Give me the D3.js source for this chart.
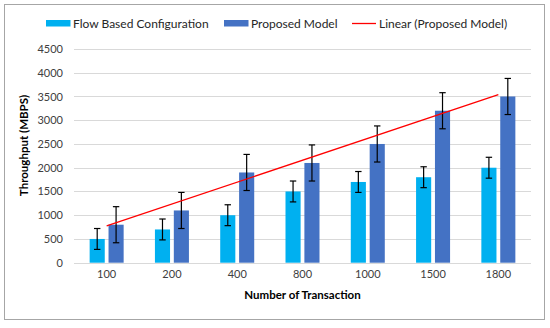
<!DOCTYPE html>
<html><head><meta charset="utf-8">
<script src="https://cdn.jsdelivr.net/npm/d3@7"></script>
<style>
html,body{margin:0;padding:0;background:#fff;}
svg{display:block;font-family:Lato,"Open Sans",sans-serif;}
</style></head>
<body>
<svg id="chart" width="550" height="328"></svg>
<script>
const categories = ["100","200","400","800","1000","1500","1800"];
const seriesNames = ["Flow Based Configuration","Proposed Model"];
const flowValues = [500,700,1000,1500,1700,1800,2000];
const proposedValues = [800,1100,1900,2100,2500,3200,3500];
const flowErrors = [220,220,220,220,220,220,220];
const proposedErrors = [380,380,380,380,380,380,380];
const yTicks = [0,500,1000,1500,2000,2500,3000,3500,4000,4500];
const colors = ["#00b0f0","#4472c4"];
const trendColor = "#ff0000";

(function(){
const svg = d3.select("#chart");
const pLeft = 74, pRight = 531, pTop = 49, pBottom = 262.7;

// frame
svg.append("rect").attr("x",4.5).attr("y",4.5).attr("width",540).attr("height",315)
  .attr("fill","#fff").attr("stroke","#a6a6a6").attr("stroke-width",1);

const x0 = d3.scaleBand().domain(categories).range([pLeft,pRight]).paddingInner(0).paddingOuter(0);
const groupW = 34;
const x1 = d3.scaleBand().domain(seriesNames).range([0,groupW]).paddingInner(0.2);
const y = d3.scaleLinear().domain([0,4500]).range([pBottom,pTop]);

// grid
svg.append("g").selectAll("line").data(yTicks).join("line")
  .attr("x1",pLeft).attr("x2",pRight)
  .attr("y1",d=>Math.round(y(d))+0.5).attr("y2",d=>Math.round(y(d))+0.5)
  .attr("stroke","#d9d9d9").attr("stroke-width",1);

// y axis labels
const yAxis = d3.axisLeft(y).tickValues(yTicks).tickFormat(d3.format("d")).tickSize(0).tickPadding(11);
const ga = svg.append("g").attr("transform",`translate(${pLeft},0)`).call(yAxis);
ga.select(".domain").remove();
ga.selectAll("text").attr("fill","#404040").style("font-size","11px").style("font-family","Lato");

// x axis labels
const xAxis = d3.axisBottom(x0).tickSize(0).tickPadding(8);
const gx = svg.append("g").attr("transform",`translate(0,${pBottom})`).call(xAxis);
gx.select(".domain").remove();
gx.selectAll("text").attr("fill","#404040").style("font-size","11px").style("font-family","Lato");

// bars
const rows = categories.map((c,i)=>({cat:c, vals:[flowValues[i],proposedValues[i]], errs:[flowErrors[i],proposedErrors[i]]}));
const off = (x0.bandwidth()-groupW)/2;
const groups = svg.append("g").selectAll("g").data(rows).join("g")
  .attr("transform",d=>`translate(${x0(d.cat)+off},0)`);
const items = d => seriesNames.map((s,j)=>({s, j, v:d.vals[j], e:d.errs[j]}));
groups.selectAll("rect").data(items).join("rect")
  .attr("x",d=>x1(d.s)).attr("width",x1.bandwidth())
  .attr("y",d=>y(d.v)).attr("height",d=>y(0)-y(d.v))
  .attr("fill",d=>colors[d.j]);

// trend line (linear regression of proposed model)
const n = proposedValues.length;
const xs = d3.range(1,n+1);
const mx = d3.mean(xs), my = d3.mean(proposedValues);
const slope = d3.sum(xs.map((xv,i)=>(xv-mx)*(proposedValues[i]-my)))/d3.sum(xs.map(xv=>(xv-mx)**2));
const icpt = my - slope*mx;
const cx = c => x0(c)+x0.bandwidth()/2;
svg.append("line")
  .attr("x1",cx(categories[0])).attr("y1",y(icpt+slope*1))
  .attr("x2",cx(categories[n-1])).attr("y2",y(icpt+slope*n))
  .attr("stroke",trendColor).attr("stroke-width",1.3);

// error bars
const eb = groups.selectAll("g.err").data(items).join("g").attr("class","err");
const capW = 3.2;
eb.each(function(d){
  const g = d3.select(this);
  const xc = x1(d.s)+x1.bandwidth()/2;
  g.append("line").attr("x1",xc).attr("x2",xc).attr("y1",y(d.v+d.e)).attr("y2",y(d.v-d.e));
  g.append("line").attr("x1",xc-capW).attr("x2",xc+capW).attr("y1",y(d.v+d.e)).attr("y2",y(d.v+d.e));
  g.append("line").attr("x1",xc-capW).attr("x2",xc+capW).attr("y1",y(d.v-d.e)).attr("y2",y(d.v-d.e));
});
eb.selectAll("line").attr("stroke","#000").attr("stroke-width",1.2);

// axis titles
svg.append("text").attr("x",302.5).attr("y",299).attr("text-anchor","middle")
  .style("font-size","11.5px").style("font-weight","bold").attr("fill","#000")
  .text("Number of Transaction");
svg.append("text").attr("transform","translate(28,145.5) rotate(-90)").attr("text-anchor","middle")
  .style("font-size","11.5px").style("font-weight","bold").attr("fill","#000")
  .text("Throughput (MBPS)");

// legend
const leg = svg.append("g").style("font-size","12px").attr("fill","#262626");
leg.append("rect").attr("x",46).attr("y",20).attr("width",24.5).attr("height",6.5).attr("fill",colors[0]);
leg.append("text").attr("x",73).attr("y",27.5).text(seriesNames[0]);
leg.append("rect").attr("x",224).attr("y",20).attr("width",24.5).attr("height",6.5).attr("fill",colors[1]);
leg.append("text").attr("x",251).attr("y",27.5).text(seriesNames[1]);
leg.append("line").attr("x1",352).attr("x2",376).attr("y1",23.5).attr("y2",23.5).attr("stroke",trendColor).attr("stroke-width",1.3);
leg.append("text").attr("x",379).attr("y",27.5).text("Linear (Proposed Model)");
})();
</script>
</body></html>
